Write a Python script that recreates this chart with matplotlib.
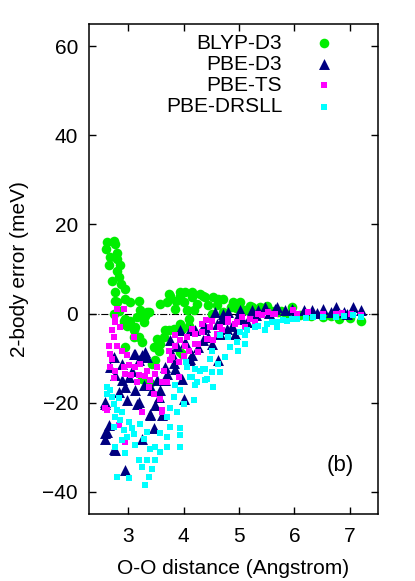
import matplotlib
matplotlib.use('Agg')
import matplotlib.pyplot as plt

plt.rcParams['font.family'] = ['Liberation Sans', 'DejaVu Sans']
plt.rcParams['font.size'] = 15

# values
blyp_x = [2.62, 2.60, 2.77, 2.80, 2.80, 2.66, 2.80, 2.71, 2.83, 2.77, 2.95, 2.95, 3.19, 2.80,
          3.22, 3.37, 3.28, 2.95, 3.58, 3.73, 3.85, 3.94, 4.06, 4.03, 4.15, 3.70, 3.76, 3.94,
          4.15, 4.36, 4.54, 4.72, 4.90, 5.02, 5.20, 5.38, 5.50, 4.18, 4.51, 4.72, 4.09, 3.94,
          3.82, 3.73, 3.64, 3.58, 3.55, 3.49, 3.43, 2.74, 2.92, 2.98, 3.10, 3.19, 3.25, 3.34,
          3.25, 3.40, 3.94, 2.92, 3.13, 3.10, 2.95, 3.67, 3.97, 3.52, 3.46, 3.97, 4.39, 4.63,
          5.00, 5.23, 5.47, 5.71, 5.95, 4.09, 6.81, 7.20, 6.51, 4.30, 4.45, 4.85, 5.10, 5.35,
          5.60, 5.85, 6.10, 6.30, 6.65, 7.00, 2.68, 2.75, 2.86, 2.88, 2.77, 3.04, 3.04, 2.84,
          3.16, 4.00, 4.25, 4.60, 4.95, 5.30, 5.75, 6.20, 3.30, 3.86]
blyp_y = [16.0, 14.5, 15.7, 13.7, 12.2, 10.8, 9.6, 7.4, 8.1, 4.8, 5.5, 3.3, 2.9, 2.5,
          0.7, 0.3, -1.9, -1.2, 2.2, 4.4, 1.1, 4.0, 0.7, 4.8, 3.7, 2.5, 4.0, 4.8,
          4.8, 4.0, 3.7, 3.3, 2.5, 2.5, 1.8, 1.4, 1.8, 0.7, -0.1, 0.3, -1.2, -2.3,
          -3.4, -3.8, -5.3, -6.8, -8.3, -10.5, -11.3, -0.1, -1.6, -2.7, -3.8, -5.3, -6.4, 0.3,
          -14.6, -15.7, -8.7, -2.3, -3.1, -5.3, -7.5, -3.8, -3.4, -5.7, -7.5, -9.0, 3.7, 3.3,
          2.2, 1.4, 1.1, 0.3, 1.4, -2.7, -1.2, -1.6, -0.8, 4.5, 2.0, 1.5, 0.8, 0.2,
          0.6, 0.0, -0.3, -0.5, -0.6, -0.9, 12.8, 16.3, 11.0, 6.6, 2.9, 2.5, -1.6, 0.5,
          -0.8, 2.6, 2.2, 2.0, 1.2, 0.9, 0.5, -0.2, -0.6, 2.8]

pbed3_x = [5.68, 5.95, 6.18, 6.31, 6.51, 6.75, 7.05, 7.20, 5.83, 6.66, 6.90, 5.02, 5.35, 5.65,
           4.57, 4.81, 5.00, 5.23, 5.47, 4.69, 4.39, 4.21, 4.27, 4.09, 4.63, 4.93, 3.13, 3.31,
           3.34, 3.19, 2.74, 2.68, 2.89, 2.77, 2.89, 3.01, 2.95, 3.13, 3.43, 3.55, 3.19, 2.98,
           2.59, 3.67, 3.79, 3.88, 4.03, 4.15, 3.85, 3.76, 3.67, 3.52, 2.62, 2.59, 2.77, 2.95,
           3.40, 3.61, 3.46, 3.25, 2.65, 3.10, 3.25, 2.59, 3.16, 3.40, 2.59, 2.74, 3.94, 4.12,
           4.33, 4.60, 4.72, 4.12, 4.00, 3.70, 3.58, 4.51, 4.66, 4.87, 5.05, 6.00, 6.40, 6.95,
           5.55, 5.30, 4.45, 3.97, 2.83, 3.07, 3.28, 3.49, 3.82, 4.36, 4.78, 5.15]
pbed3_y = [1.4, 1.1, 0.7, 0.7, 1.1, 1.4, 1.4, 0.7, 0.7, 0.3, 0.3, 0.7, 0.7, 1.1,
           0.3, 0.3, -0.1, 0.7, 1.4, -1.2, -3.1, -3.8, -7.5, -10.5, -10.5, -4.5, -9.0, -8.7,
           -9.8, -10.5, -9.8, -12.0, -11.3, -13.9, -15.0, -14.3, -16.5, -17.2, -17.2, -18.7, -19.9, -19.5,
           -19.9, -12.0, -9.0, -7.2, -6.4, -9.4, -12.4, -6.0, -15.0, -15.0, -26.6, -28.1, -30.7, -35.2,
           -22.8, -22.8, -25.8, -28.1, -25.1, -9.0, -9.4, -20.2, -20.2, -22.5, -26.9, -30.3, -3.8, -3.8,
           -3.4, -2.3, -0.1, -10.1, -19.1, -13.5, -17.2, -6.8, -4.5, -2.7, -1.2, 0.0, 0.2, 0.0,
           0.2, -0.3, -5.2, -14.8, -17.5, -13.0, -16.0, -20.5, -11.0, -6.0, -3.5, -1.8]

pbets_x = [2.80, 2.92, 2.77, 2.77, 2.71, 2.74, 2.65, 2.80, 2.89, 3.10, 2.98, 2.71, 2.68, 2.77,
           2.92, 3.01, 3.13, 3.22, 3.34, 3.49, 3.64, 3.61, 3.46, 3.58, 3.25, 3.61, 3.91, 3.91,
           3.79, 3.85, 3.94, 4.06, 4.21, 4.33, 4.48, 4.54, 4.66, 4.81, 4.96, 5.20, 5.41, 5.62,
           2.59, 3.16, 3.37, 3.70, 3.76, 4.27, 4.42, 2.62, 3.61, 2.95, 2.83, 4.15, 4.33, 4.51,
           4.81, 5.05, 5.35, 5.53, 4.21, 4.45, 4.09, 4.27, 4.69, 4.93, 5.98, 6.04, 6.51, 6.75,
           7.02, 7.20, 5.65, 2.86, 3.05, 3.30, 3.85, 4.00, 4.40, 5.10, 6.25, 6.85, 2.74, 2.95,
           3.19, 3.52, 3.73, 4.02, 4.60, 5.28, 2.68, 3.40]
pbets_y = [1.1, 1.1, -0.8, -1.9, -3.8, -5.3, -7.2, -7.2, -8.3, -5.3, -9.4, -10.1, -12.0, -12.8,
           -12.0, -11.6, -12.0, -11.3, -12.8, -13.5, -12.8, -15.4, -18.0, -19.1, -22.1, -21.7, -14.3, -10.9,
           -9.8, -7.2, -6.0, -5.3, -4.5, -4.2, -3.1, -6.0, -3.1, -1.9, -1.9, -1.2, -0.4, -0.1,
           -21.3, -15.4, -16.5, -15.4, -10.5, -6.8, -5.7, -21.7, -22.1, -28.8, -25.1, -3.4, -2.3, -1.6,
           -1.2, -0.8, -0.1, 0.3, -6.8, -5.7, -8.3, -8.7, -3.8, -2.3, 0.7, -0.1, -0.1, -0.1,
           -0.1, -0.4, -0.1, -3.0, -13.8, -14.0, -4.8, -9.5, -1.5, -3.0, 0.3, 0.2, -14.5, -13.6,
           -13.9, -12.0, -8.5, -7.2, -4.6, -1.9, -9.0, -15.0]

drsll_x = [5.86, 6.04, 6.33, 6.51, 6.75, 7.05, 7.20, 5.68, 5.50, 5.29, 5.14, 5.02, 5.68, 5.47,
           4.96, 4.84, 4.66, 4.51, 4.99, 4.48, 4.36, 4.66, 5.11, 4.99, 4.75, 4.63, 4.30, 4.15,
           4.39, 4.21, 5.59, 5.47, 5.11, 4.06, 4.21, 4.39, 4.51, 4.12, 4.24, 4.42, 3.94, 4.54,
           3.82, 4.00, 3.76, 3.88, 3.70, 3.76, 3.94, 3.58, 3.70, 3.94, 3.22, 3.34, 3.13, 3.28,
           3.49, 3.58, 3.19, 3.34, 3.49, 3.25, 3.43, 3.37, 3.31, 2.80, 3.01, 2.95, 2.77, 2.74,
           2.92, 2.98, 2.62, 2.62, 2.71, 2.74, 2.80, 2.89, 2.77, 2.86, 3.01, 3.07, 2.89, 3.85,
           4.18, 3.70, 3.94, 6.20, 6.90, 5.95, 2.68, 2.83, 3.10, 3.40, 4.80, 5.35, 5.80, 4.05]
drsll_y = [-1.6, -1.2, -0.8, -0.8, -0.8, -0.4, -0.8, -1.9, -2.3, -3.1, -3.8, -4.2, -3.1, -3.8,
           -6.4, -7.5, -4.9, -8.3, -8.3, -10.1, -12.4, -13.1, -6.8, -8.3, -9.8, -11.3, -12.8, -14.3,
           -15.0, -16.1, -1.9, -3.8, -4.9, -12.0, -12.4, -12.4, -13.1, -14.3, -15.4, -14.6, -17.2, -16.5,
           -18.7, -20.2, -21.3, -22.1, -23.2, -25.5, -27.3, -26.9, -27.7, -29.9, -24.7, -26.6, -29.6, -28.1,
           -29.9, -31.1, -32.9, -32.9, -32.9, -34.4, -34.8, -36.7, -38.5, -36.7, -37.0, -31.4, -29.9, -25.5,
           -26.2, -27.7, -16.5, -18.0, -18.7, -20.2, -21.7, -22.1, -23.2, -23.9, -24.3, -25.8, -28.4, -16.1,
           -19.5, -29.9, -25.8, -1.0, -0.6, -1.3, -17.2, -19.0, -27.0, -30.5, -5.2, -2.8, -1.5, -10.8]

fig = plt.figure(figsize=(4.15, 5.81), dpi=100)
ax = fig.add_axes([0.215, 0.1153, 0.695, 0.8434])

ax.axhline(0, color='black', linestyle='-.', linewidth=0.8, zorder=0)
ax.scatter(blyp_x, blyp_y, s=48, marker='o', color='#00ee00', linewidths=0, label='BLYP-D3', zorder=1)
ax.scatter(pbed3_x, pbed3_y, s=62, marker='^', color='#000080', linewidths=0, label='PBE-D3', zorder=2)
ax.scatter(pbets_x, pbets_y, s=22, marker='s', color='#ff00ff', linewidths=0, label='PBE-TS', zorder=3)
ax.scatter(drsll_x, drsll_y, s=22, marker='s', color='#00ffff', linewidths=0, label='PBE-DRSLL', zorder=4)

ax.set_xlim(2.3, 7.5)
ax.set_ylim(-45, 65)
ax.set_xticks([3, 4, 5, 6, 7])
ax.set_yticks([-40, -20, 0, 20, 40, 60])
ax.tick_params(direction='in', top=True, right=True, length=5, width=1)
ax.tick_params(axis='x', pad=9)
ax.tick_params(axis='y', pad=8)
for sp in ax.spines.values():
    sp.set_linewidth(1.1)

ax.set_xlabel('O-O distance (Angstrom)', labelpad=10)
ax.set_ylabel('2-body error (meV)', labelpad=10)
ax.text(0.87, 0.10, '(b)', transform=ax.transAxes, ha='center', va='center', fontsize=16)

ax.legend(loc='upper right', bbox_to_anchor=(0.85, 0.98), markerfirst=False, frameon=False,
          borderpad=0, borderaxespad=0, handlelength=1.0, handletextpad=1.5,
          labelspacing=0.1, scatterpoints=1)

fig.savefig('out.png', dpi=100)
